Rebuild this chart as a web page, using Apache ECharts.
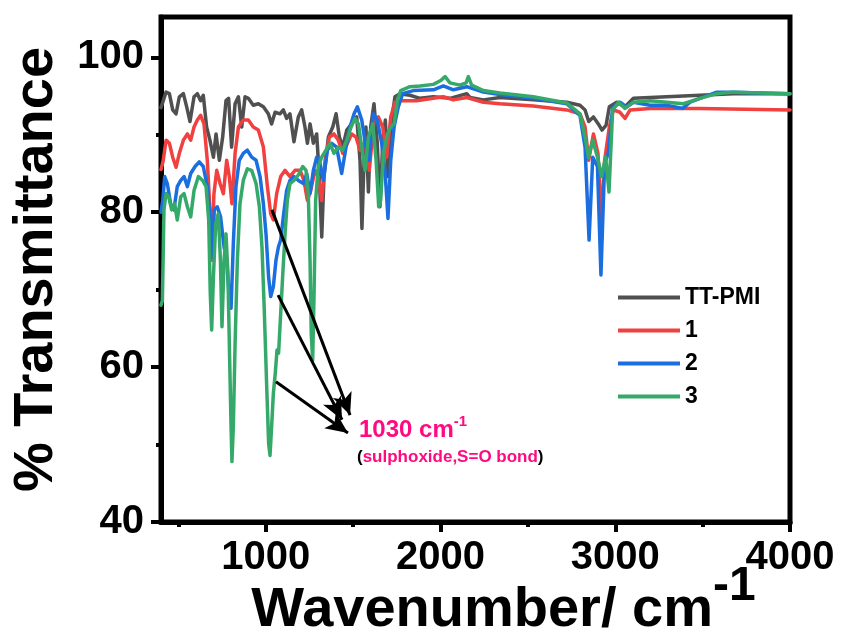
<!DOCTYPE html>
<html>
<head>
<meta charset="utf-8">
<script src="https://cdn.jsdelivr.net/npm/echarts@6/dist/echarts.min.js"></script>
<style>html,body{margin:0;padding:0;background:#fff}#c{width:842px;height:637px}</style>
</head>
<body>
<div id="c"></div>
<script>
// ---- data (wavenumber cm-1, % transmittance) ----
var seriesNames = ['TT-PMI', '1', '2', '3'];
var xMajorTicks = [1000, 2000, 3000, 4000];
var xMinorTicks = [500, 1500, 2500, 3500];
var yMajorTicks = [40, 60, 80, 100];
var yMinorTicks = [50, 70, 90];

var ttpmi = [[400,93.5],[413,94.4],[429,95.5],[448,95.3],[467,93.2],[486,92.7],[505,94.9],[528,95.3],[547,93.6],[566,91.7],[589,94.9],[608,95.3],[627,94.4],[642,95.1],[661,91.0],[680,89.3],[700,87.1],[715,90.1],[734,86.7],[753,89.7],[772,94.4],[787,94.7],[804,88.4],[824,94.0],[843,94.9],[862,91.0],[881,94.9],[900,94.7],[928,93.8],[957,94.0],[986,93.6],[1014,92.7],[1033,91.4],[1053,92.9],[1081,92.7],[1100,93.2],[1119,92.1],[1138,92.7],[1161,89.1],[1186,92.3],[1205,93.2],[1224,91.0],[1238,88.9],[1253,91.4],[1272,88.9],[1291,90.1],[1306,84.6],[1320,76.8],[1333,84.6],[1358,89.7],[1383,91.0],[1402,92.7],[1421,89.7],[1440,88.4],[1463,90.6],[1491,91.4],[1520,92.3],[1539,86.7],[1550,77.9],[1562,86.7],[1573,91.0],[1587,82.6],[1600,91.0],[1619,94.0],[1638,88.9],[1653,80.7],[1669,88.9],[1684,91.9],[1699,84.6],[1715,91.0],[1739,94.9],[1768,95.3],[1825,95.1],[1882,94.7],[1959,94.9],[2054,94.7],[2150,95.3],[2169,94.8],[2245,94.5],[2340,94.8],[2531,94.5],[2722,94.2],[2798,93.8],[2827,93.2],[2848,91.7],[2875,92.3],[2903,91.4],[2924,90.6],[2947,91.2],[2966,93.6],[3008,94.2],[3056,93.6],[3104,94.7],[3294,94.9],[3485,95.1],[3676,95.3],[4000,95.3]];

var sample1 = [[400,85.5],[413,86.7],[429,89.3],[448,88.9],[467,87.1],[486,85.8],[505,87.6],[528,89.3],[551,90.1],[570,89.3],[589,91.0],[608,91.9],[627,92.5],[646,91.4],[665,86.7],[680,80.3],[690,73.8],[703,82.4],[719,85.4],[738,83.7],[757,82.4],[776,86.7],[791,84.6],[806,81.1],[824,87.6],[843,91.0],[871,91.9],[900,91.9],[928,91.0],[957,90.6],[986,88.4],[1009,83.3],[1028,79.8],[1043,79.0],[1062,82.4],[1085,84.6],[1110,85.4],[1138,84.6],[1167,85.4],[1196,85.4],[1218,84.1],[1238,81.5],[1257,82.8],[1281,85.4],[1300,84.6],[1320,81.5],[1339,86.7],[1364,89.7],[1390,90.1],[1415,89.3],[1440,87.6],[1467,88.9],[1491,90.1],[1516,89.7],[1539,88.0],[1568,88.9],[1592,85.4],[1619,91.9],[1644,92.3],[1669,91.0],[1692,87.1],[1715,92.3],[1739,94.2],[1768,94.4],[1863,94.4],[1959,94.7],[2016,94.9],[2073,94.5],[2150,94.8],[2245,94.2],[2340,94.0],[2531,93.7],[2722,93.2],[2798,92.7],[2827,91.0],[2848,86.7],[2875,90.1],[2901,87.6],[2920,79.0],[2939,86.7],[2966,91.0],[2989,93.2],[3027,92.9],[3056,92.1],[3085,93.2],[3199,93.4],[3485,93.4],[4000,93.2]];

var sample2 = [[400,80.0],[410,81.5],[421,84.6],[436,83.7],[455,81.1],[474,80.3],[493,83.3],[513,84.1],[532,84.6],[551,83.3],[570,85.0],[595,85.9],[619,86.5],[642,85.9],[665,83.3],[680,79.8],[692,74.2],[705,80.3],[722,80.7],[741,79.4],[761,75.5],[776,73.8],[789,69.5],[801,67.6],[814,76.0],[829,83.3],[848,86.7],[871,87.6],[894,88.0],[919,87.1],[944,86.7],[967,84.6],[986,81.1],[1001,77.2],[1016,71.6],[1028,69.1],[1043,70.4],[1058,73.8],[1072,75.5],[1085,76.4],[1100,79.4],[1119,82.8],[1138,84.1],[1161,84.6],[1186,84.1],[1215,83.7],[1234,85.0],[1253,82.4],[1272,85.4],[1291,87.1],[1310,86.3],[1329,84.1],[1352,88.0],[1377,88.9],[1405,88.4],[1434,85.0],[1459,88.4],[1482,91.0],[1505,92.7],[1524,93.6],[1549,91.9],[1573,88.4],[1592,86.7],[1615,92.7],[1638,91.9],[1663,88.9],[1682,85.4],[1699,79.2],[1715,86.7],[1734,91.0],[1758,93.6],[1783,95.3],[1844,95.7],[1959,95.8],[2016,96.3],[2073,95.8],[2150,96.2],[2245,95.5],[2340,95.2],[2531,94.7],[2722,94.0],[2798,92.5],[2827,88.4],[2850,76.4],[2871,87.1],[2898,85.9],[2918,71.9],[2939,86.3],[2960,87.6],[2985,93.4],[3027,94.2],[3065,93.6],[3104,94.2],[3199,93.8],[3294,93.8],[3386,93.4],[3428,94.2],[3581,95.5],[3676,95.5],[4000,95.3]];

var sample3 = [[400,68.0],[408,68.6],[417,80.3],[429,82.4],[444,82.0],[461,80.3],[478,81.1],[493,79.0],[513,82.0],[532,82.4],[551,80.7],[570,79.4],[589,82.8],[614,84.6],[638,84.1],[658,83.3],[673,79.0],[682,69.5],[690,64.8],[700,71.6],[713,78.5],[728,79.8],[740,73.8],[749,65.2],[761,73.8],[772,77.2],[783,72.1],[793,60.9],[801,52.3],[806,47.8],[814,52.3],[824,63.0],[837,73.8],[852,81.1],[871,84.1],[894,85.6],[919,85.4],[944,83.7],[963,80.7],[978,75.5],[991,67.4],[1005,57.5],[1016,50.1],[1024,48.6],[1033,52.3],[1043,56.6],[1054,59.2],[1064,62.2],[1073,61.8],[1085,66.9],[1096,71.6],[1110,77.2],[1123,81.5],[1138,83.7],[1161,84.1],[1186,84.8],[1211,85.9],[1230,85.4],[1243,82.4],[1253,73.8],[1260,64.3],[1268,60.9],[1276,69.5],[1285,81.5],[1300,85.9],[1320,87.1],[1344,88.0],[1367,88.9],[1390,87.6],[1415,88.4],[1440,88.0],[1463,89.3],[1488,91.0],[1510,92.1],[1530,91.4],[1549,88.4],[1568,85.4],[1587,89.7],[1612,91.4],[1631,86.7],[1646,80.7],[1657,81.5],[1673,87.6],[1696,90.1],[1715,91.0],[1734,91.4],[1753,94.4],[1772,95.7],[1825,96.2],[1882,96.3],[1959,96.5],[2001,97.0],[2026,97.5],[2054,96.7],[2111,96.4],[2146,96.7],[2159,97.5],[2178,96.4],[2245,95.7],[2340,95.4],[2531,94.9],[2722,94.1],[2798,92.7],[2827,89.7],[2846,87.1],[2871,89.3],[2898,87.1],[2922,84.6],[2945,87.1],[2964,82.6],[2985,93.2],[3018,94.2],[3056,93.4],[3104,94.2],[3199,94.4],[3294,94.2],[3390,94.0],[3485,94.7],[3581,95.3],[3676,95.5],[4000,95.3]];

// annotation arrows: [start, tip] in data coordinates
var arrowRed = [[1035, 80.3], [1482, 53.8]];
var arrowBlue = [[1070, 69.3], [1436, 53.2]];
var arrowGreen = [[1058, 58.1], [1470, 51.5]];

var colors = ['#505050', '#F0403F', '#1B6EDF', '#35A96A'];
var FONT = 'Liberation Sans, Arial, sans-serif';

var chart = echarts.init(document.getElementById('c'), null, {renderer: 'canvas'});

function mkSeries(name, data, idx) {
  return {
    name: name, type: 'line', data: data, xAxisIndex: 0, yAxisIndex: 0,
    showSymbol: false, symbol: 'none', smooth: false,
    lineStyle: {color: colors[idx], width: 3.5, cap: 'round', join: 'round'},
    itemStyle: {color: colors[idx]},
    emphasis: {disabled: true}
  };
}

var series = [
  mkSeries(seriesNames[0], ttpmi, 0),
  mkSeries(seriesNames[1], sample1, 1),
  mkSeries(seriesNames[2], sample2, 2),
  mkSeries(seriesNames[3], sample3, 3)
];
series[3].markLine = {
  silent: true, animation: false,
  symbol: ['none', 'arrow'], symbolSize: [15, 22],
  label: {show: false},
  lineStyle: {color: '#000', width: 3, type: 'solid'},
  emphasis: {disabled: true},
  data: [
    [{coord: arrowRed[0]}, {coord: arrowRed[1]}],
    [{coord: arrowBlue[0]}, {coord: arrowBlue[1]}],
    [{coord: arrowGreen[0]}, {coord: arrowGreen[1]}]
  ]
};

function plain(v) { return String(Math.round(v)); }

var option = {
  animation: false,
  backgroundColor: '#fff',
  grid: {left: 161, right: 52, top: 17, bottom: 115, show: true, borderColor: '#000', borderWidth: 5,
         containLabel: false, outerBoundsMode: 'none'},
  legend: {
    orient: 'vertical', left: 613, top: 281,
    data: seriesNames, icon: 'rect', itemWidth: 62, itemHeight: 4, itemGap: 10,
    textStyle: {fontFamily: FONT, fontSize: 23, fontWeight: 'bold', color: '#000'},
    selectedMode: false
  },
  xAxis: [{
    type: 'value', min: 400, max: 4000, position: 'bottom',
    axisLine: {show: true, onZero: false, lineStyle: {color: '#000', width: 5}},
    axisTick: {show: true, length: 10, lineStyle: {color: '#000', width: 4}, customValues: xMajorTicks},
    axisLabel: {customValues: xMajorTicks, formatter: plain, fontFamily: FONT, fontSize: 40, fontWeight: 'bold', color: '#000', margin: 16},
    splitLine: {show: false},
    name: '{a|Wavenumber/ cm}{s|-1}', nameLocation: 'middle', nameGap: 41, nameMoveOverlap: false,
    nameTextStyle: {
      padding: [0, 0, 0, 56],
      rich: {
        a: {fontFamily: FONT, fontSize: 56, fontWeight: 'bold', color: '#000', lineHeight: 76, verticalAlign: 'bottom'},
        s: {fontFamily: FONT, fontSize: 48, fontWeight: 'bold', color: '#000', lineHeight: 76, verticalAlign: 'top'}
      }
    }
  }, {
    type: 'value', min: 400, max: 4000, position: 'bottom',
    axisLine: {show: false, onZero: false},
    axisTick: {show: true, length: 5, lineStyle: {color: '#000', width: 4}, customValues: xMinorTicks},
    axisLabel: {show: false},
    splitLine: {show: false}
  }],
  yAxis: [{
    type: 'value', min: 40, max: 105.2, position: 'left',
    axisLine: {show: true, onZero: false, lineStyle: {color: '#000', width: 5}},
    axisTick: {show: true, length: 10, lineStyle: {color: '#000', width: 4}, customValues: yMajorTicks},
    axisLabel: {customValues: yMajorTicks, formatter: plain, fontFamily: FONT, fontSize: 40, fontWeight: 'bold', color: '#000', margin: 17},
    splitLine: {show: false},
    name: '% Transmittance', nameLocation: 'middle', nameGap: 96, nameMoveOverlap: false,
    nameTextStyle: {fontFamily: FONT, fontSize: 56, fontWeight: 'bold', color: '#000'}
  }, {
    type: 'value', min: 40, max: 105.2, position: 'left',
    axisLine: {show: false, onZero: false},
    axisTick: {show: true, length: 5, lineStyle: {color: '#000', width: 4}, customValues: yMinorTicks},
    axisLabel: {show: false},
    splitLine: {show: false}
  }],
  graphic: [{
    type: 'text', left: 359, top: 414, silent: true,
    style: {
      text: '{a|1030 cm}{s|-1}',
      rich: {
        a: {fontFamily: FONT, fontSize: 24, fontWeight: 'bold', fill: '#FF0A80', lineHeight: 28, verticalAlign: 'bottom'},
        s: {fontFamily: FONT, fontSize: 15, fontWeight: 'bold', fill: '#FF0A80', lineHeight: 28, verticalAlign: 'top'}
      }
    }
  }, {
    type: 'text', left: 357, top: 449, silent: true,
    style: {
      text: '{p|(}{m|sulphoxide,S=O bond}{p|)}',
      rich: {
        p: {fontFamily: FONT, fontSize: 17, fontWeight: 'bold', fill: '#000'},
        m: {fontFamily: FONT, fontSize: 17, fontWeight: 'bold', fill: '#FF0A80'}
      }
    }
  }],
  series: series
};
chart.setOption(option);
</script>
</body>
</html>
